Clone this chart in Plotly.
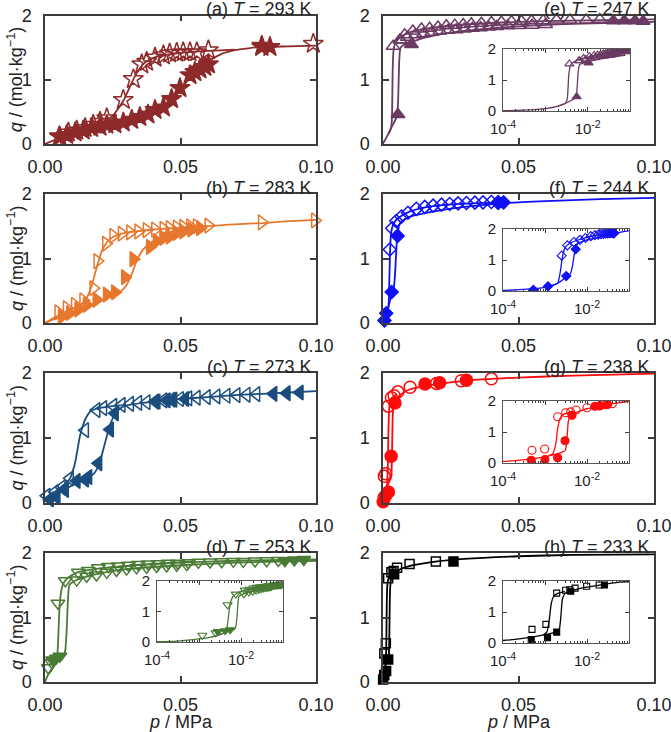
import plotly.graph_objects as go

# ---------------- data (p in MPa, q in mol/kg) ----------------
# (a) T = 293 K
A_ADS_P = [0.0055, 0.008, 0.0111, 0.0141, 0.0172, 0.0203, 0.0228, 0.0258, 0.0289, 0.032, 0.035, 0.038, 0.0406,
           0.0437, 0.0467, 0.0498, 0.0535, 0.0553, 0.0572, 0.059, 0.0603, 0.080, 0.083]
A_ADS_Q = [0.11, 0.14, 0.18, 0.21, 0.25, 0.27, 0.30, 0.31, 0.335, 0.376, 0.42, 0.46, 0.53, 0.57, 0.70, 0.87, 1.07,
           1.12, 1.16, 1.20, 1.24, 1.51, 1.51]
A_DES_P = [0.0053, 0.0086, 0.0117, 0.0148, 0.0178, 0.0203, 0.0228, 0.0289, 0.0326, 0.0357, 0.0375, 0.0406, 0.0437,
           0.046, 0.0486, 0.051, 0.0535, 0.056, 0.0603, 0.080, 0.099]
A_DES_Q = [0.12, 0.18, 0.21, 0.25, 0.30, 0.345, 0.40, 0.686, 1.01, 1.24, 1.28, 1.345, 1.38, 1.41, 1.42, 1.43, 1.43,
           1.43, 1.46, 1.53, 1.56]
A_FIT_ADS_P = [0, 0.005, 0.01, 0.015, 0.02, 0.025, 0.03, 0.035, 0.04, 0.045, 0.05, 0.055, 0.06, 0.065, 0.07, 0.075,
               0.08, 0.09, 0.1]
A_FIT_ADS_Q = [0, 0.09, 0.16, 0.22, 0.26, 0.30, 0.34, 0.40, 0.48, 0.62, 0.86, 1.10, 1.28, 1.40, 1.46, 1.49, 1.51,
               1.52, 1.53]
A_FIT_DES_P = [0.015, 0.02, 0.022, 0.025, 0.027, 0.029, 0.031, 0.033, 0.035, 0.037, 0.04, 0.045, 0.05, 0.06, 0.07]
A_FIT_DES_Q = [0.22, 0.30, 0.35, 0.44, 0.55, 0.68, 0.86, 1.04, 1.18, 1.27, 1.34, 1.39, 1.42, 1.45, 1.47]

# (b) T = 283 K
B_ADS_P = [0.0062, 0.0092, 0.0123, 0.0154, 0.019, 0.0228, 0.0258, 0.0295, 0.0326, 0.0387, 0.0412, 0.0437, 0.046,
           0.0486, 0.051, 0.054, 0.0572]
B_ADS_Q = [0.10, 0.155, 0.21, 0.28, 0.36, 0.44, 0.475, 0.71, 0.99, 1.18, 1.27, 1.32, 1.34, 1.395, 1.42, 1.45, 1.47]
B_DES_P = [0.0049, 0.008, 0.011, 0.0141, 0.0178, 0.0193, 0.0225, 0.0252, 0.0283, 0.0314, 0.0344, 0.0375, 0.0406,
           0.0437, 0.046, 0.0486, 0.051, 0.0535, 0.056, 0.0603, 0.080, 0.0996]
B_DES_Q = [0.165, 0.23, 0.28, 0.35, 0.54, 0.96, 1.23, 1.35, 1.385, 1.405, 1.42, 1.44, 1.45, 1.46, 1.47, 1.48, 1.49,
           1.50, 1.50, 1.51, 1.56, 1.59]
B_FIT_ADS_P = [0, 0.005, 0.01, 0.015, 0.02, 0.025, 0.028, 0.03, 0.032, 0.034, 0.036, 0.038, 0.04, 0.045, 0.05,
               0.055, 0.06, 0.07, 0.08, 0.09, 0.1]
B_FIT_ADS_Q = [0, 0.09, 0.17, 0.25, 0.33, 0.42, 0.49, 0.58, 0.76, 0.98, 1.13, 1.21, 1.27, 1.36, 1.42, 1.46, 1.50,
               1.53, 1.55, 1.58, 1.60]
B_FIT_DES_P = [0.0, 0.005, 0.01, 0.013, 0.015, 0.017, 0.019, 0.021, 0.023, 0.025, 0.03, 0.04, 0.05, 0.06]
B_FIT_DES_Q = [0.0, 0.12, 0.22, 0.28, 0.36, 0.55, 0.85, 1.12, 1.26, 1.33, 1.40, 1.45, 1.48, 1.50]

# (c) T = 273 K
C_ADS_P = [0.0018, 0.0043, 0.0074, 0.0117, 0.0148, 0.016, 0.0197, 0.024, 0.0258, 0.0412, 0.0449, 0.0474, 0.0517,
           0.0843, 0.0892, 0.094]
C_ADS_Q = [0.057, 0.09, 0.20, 0.34, 0.36, 0.40, 0.61, 1.13, 1.38, 1.56, 1.58, 1.59, 1.60, 1.68, 1.69, 1.70]
C_DES_P = [0.0006, 0.0037, 0.0062, 0.0092, 0.0148, 0.019, 0.0215, 0.0252, 0.0283, 0.0314, 0.0344, 0.0375, 0.0406,
           0.0437, 0.0467, 0.0498, 0.0529, 0.056, 0.0597, 0.0633, 0.067, 0.0707, 0.0744, 0.078]
C_DES_Q = [0.11, 0.17, 0.24, 0.38, 1.12, 1.43, 1.46, 1.495, 1.51, 1.525, 1.54, 1.55, 1.56, 1.58, 1.59, 1.60, 1.61,
           1.62, 1.63, 1.64, 1.65, 1.66, 1.665, 1.675]
C_FIT_ADS_P = [0, 0.005, 0.01, 0.015, 0.018, 0.02, 0.022, 0.024, 0.026, 0.028, 0.03, 0.04, 0.05, 0.06, 0.07, 0.08,
               0.09, 0.1]
C_FIT_ADS_Q = [0.04, 0.15, 0.27, 0.37, 0.45, 0.60, 0.90, 1.20, 1.38, 1.46, 1.50, 1.56, 1.60, 1.63, 1.66, 1.68,
               1.70, 1.72]
C_FIT_DES_P = [0, 0.003, 0.006, 0.009, 0.011, 0.013, 0.015, 0.017, 0.02, 0.025, 0.03]
C_FIT_DES_Q = [0.06, 0.15, 0.25, 0.36, 0.60, 1.05, 1.30, 1.42, 1.46, 1.49, 1.51]

# (d) T = 253 K
D_ADS_P = [0.0028, 0.0042, 0.0055, 0.0885, 0.092, 0.0955]
D_ADS_Q = [0.34, 0.37, 0.40, 1.88, 1.89, 1.90]
D_DES_P = [0.0012, 0.0025, 0.0048, 0.0075, 0.0123, 0.016, 0.0197, 0.0234, 0.027, 0.0308, 0.0344, 0.0381, 0.0418,
           0.0455, 0.049, 0.0529, 0.0566, 0.0609, 0.0652, 0.0695, 0.0732, 0.0775, 0.0818, 0.0861,
           0.0117, 0.0154, 0.019, 0.0228, 0.0264, 0.0301, 0.0338, 0.0375, 0.0412, 0.0449, 0.0486, 0.0523]
D_DES_Q = [0.22, 0.30, 1.22, 1.57, 1.70, 1.73, 1.77, 1.79, 1.80, 1.81, 1.82, 1.83, 1.835, 1.84, 1.84, 1.85, 1.855,
           1.86, 1.865, 1.87, 1.87, 1.875, 1.88, 1.885,
           1.58, 1.64, 1.66, 1.70, 1.73, 1.75, 1.77, 1.78, 1.79, 1.80, 1.81, 1.82]
D_FIT_ADS_P = [0, 1e-4, 3e-4, 1e-3, 2e-3, 4e-3, 6e-3, 7e-3, 7.5e-3, 8e-3, 8.5e-3, 9e-3, 0.011, 0.015, 0.02, 0.03,
               0.05, 0.07, 0.1]
D_FIT_ADS_Q = [0, 0.01, 0.03, 0.10, 0.16, 0.30, 0.38, 0.42, 0.50, 0.80, 1.30, 1.50, 1.57, 1.63, 1.68, 1.75, 1.81,
               1.85, 1.88]
D_FIT_DES_P = [2e-3, 3e-3, 4e-3, 4.6e-3, 5e-3, 5.5e-3, 6.5e-3, 8e-3, 0.012, 0.02, 0.03, 0.05, 0.07, 0.1]
D_FIT_DES_Q = [0.16, 0.23, 0.30, 0.45, 0.80, 1.25, 1.50, 1.60, 1.70, 1.76, 1.80, 1.85, 1.88, 1.90]

# (e) T = 247 K
E_ADS_P = [0.0055, 0.0105, 0.085, 0.089, 0.093, 0.096]
E_ADS_Q = [0.46, 1.55, 1.92, 1.92, 1.92, 1.91]
E_DES_P = [0.0037, 0.0062, 0.008, 0.011, 0.0142, 0.0172, 0.0203, 0.0234, 0.0265, 0.0296, 0.0326, 0.0363, 0.04,
           0.0437, 0.0474, 0.0511, 0.0548, 0.0591, 0.064, 0.069, 0.075, 0.08,
           0.0065, 0.009, 0.012, 0.015, 0.018, 0.021, 0.024, 0.027, 0.030, 0.033, 0.036, 0.039, 0.042, 0.046,
           0.050, 0.055, 0.060]
E_DES_Q = [1.52, 1.62, 1.70, 1.76, 1.79, 1.80, 1.82, 1.84, 1.85, 1.86, 1.87, 1.88, 1.89, 1.90, 1.905, 1.91, 1.917,
           1.92, 1.93, 1.93, 1.93, 1.94,
           1.62, 1.66, 1.70, 1.72, 1.74, 1.76, 1.77, 1.78, 1.79, 1.80, 1.81, 1.82, 1.83, 1.84, 1.845, 1.85, 1.86]
E_FIT_ADS_P = [0, 1e-4, 3e-4, 1e-3, 2e-3, 3e-3, 4e-3, 5e-3, 5.5e-3, 6e-3, 6.5e-3, 8e-3, 0.01, 0.015, 0.02, 0.03,
               0.05, 0.07, 0.1]
E_FIT_ADS_Q = [0, 0.01, 0.03, 0.08, 0.16, 0.25, 0.33, 0.42, 0.60, 1.30, 1.50, 1.55, 1.58, 1.65, 1.70, 1.76, 1.83,
               1.87, 1.90]
E_FIT_DES_P = [2e-3, 3e-3, 3.3e-3, 3.6e-3, 4e-3, 5e-3, 7e-3, 0.01, 0.015, 0.02, 0.03, 0.05, 0.07, 0.1]
E_FIT_DES_Q = [0.16, 0.25, 0.40, 1.20, 1.50, 1.60, 1.68, 1.74, 1.79, 1.82, 1.86, 1.90, 1.92, 1.94]

# (f) T = 244 K
F_ADS_P = [0.00053, 0.00118, 0.0032, 0.0054, 0.0425, 0.0445]
F_ADS_Q = [0.04, 0.15, 0.48, 1.35, 1.86, 1.87]
F_DES_P = [0.0025, 0.0034, 0.0049, 0.0068, 0.0092, 0.0123, 0.0154, 0.0185, 0.0216, 0.0246, 0.0277, 0.0308,
           0.0339, 0.0369, 0.04, 0.0425]
F_DES_Q = [1.14, 1.47, 1.58, 1.65, 1.71, 1.77, 1.80, 1.82, 1.835, 1.845, 1.855, 1.86, 1.866, 1.87, 1.876, 1.876]
F_FIT_ADS_P = [0, 1e-4, 3e-4, 1e-3, 2e-3, 3e-3, 4e-3, 4.5e-3, 5e-3, 5.5e-3, 6e-3, 7e-3, 0.01, 0.015, 0.02, 0.03,
               0.045, 0.06, 0.08, 0.1]
F_FIT_ADS_Q = [0, 0.02, 0.05, 0.12, 0.25, 0.42, 0.55, 0.80, 1.20, 1.42, 1.52, 1.58, 1.65, 1.70, 1.74, 1.80, 1.86,
               1.89, 1.92, 1.94]
F_FIT_DES_P = [1e-3, 1.5e-3, 2e-3, 2.3e-3, 2.6e-3, 3e-3, 4e-3, 6e-3, 0.01, 0.015, 0.02, 0.03, 0.045]
F_FIT_DES_Q = [0.12, 0.18, 0.25, 0.60, 1.10, 1.40, 1.55, 1.64, 1.73, 1.79, 1.82, 1.85, 1.87]

# (g) T = 238 K
G_ADS_P = [0.00005, 0.00047, 0.001, 0.002, 0.003, 0.0044, 0.0155, 0.0209, 0.0308]
G_ADS_Q = [0.02, 0.09, 0.11, 0.17, 0.72, 1.54, 1.83, 1.85, 1.89]
G_DES_P = [0.00049, 0.00098, 0.002, 0.0031, 0.0041, 0.0055, 0.01, 0.0197, 0.0289, 0.04]
G_DES_Q = [0.41, 0.45, 1.49, 1.62, 1.65, 1.71, 1.78, 1.84, 1.88, 1.91]
G_FIT_ADS_P = [0, 1e-4, 3e-4, 1e-3, 2e-3, 3e-3, 3.3e-3, 3.6e-3, 4e-3, 5e-3, 7e-3, 0.01, 0.02, 0.03, 0.05, 0.07, 0.1]
G_FIT_ADS_Q = [0, 0.05, 0.10, 0.20, 0.30, 0.40, 0.70, 1.35, 1.52, 1.60, 1.68, 1.75, 1.83, 1.88, 1.93, 1.96, 1.99]
G_FIT_DES_P = [1.2e-3, 1.5e-3, 1.8e-3, 2e-3, 2.3e-3, 2.7e-3, 3.5e-3, 5e-3]
G_FIT_DES_Q = [0.24, 0.28, 0.60, 1.10, 1.45, 1.56, 1.62, 1.67]

# (h) T = 233 K
H_ADS_P = [0.00005, 0.00047, 0.00115, 0.0019, 0.0041, 0.026]
H_ADS_Q = [0.04, 0.11, 0.17, 0.35, 1.67, 1.87]
H_DES_P = [0.00049, 0.00105, 0.0019, 0.0031, 0.0039, 0.0052, 0.0098, 0.0195]
H_DES_Q = [0.44, 0.60, 1.61, 1.70, 1.72, 1.77, 1.83, 1.87]
H_FIT_ADS_P = [0, 1e-4, 3e-4, 1e-3, 2e-3, 2.2e-3, 2.4e-3, 2.6e-3, 3e-3, 4e-3, 6e-3, 0.01, 0.02, 0.03, 0.05, 0.07, 0.1]
H_FIT_ADS_Q = [0, 0.08, 0.15, 0.27, 0.37, 0.45, 0.90, 1.42, 1.60, 1.67, 1.74, 1.80, 1.87, 1.91, 1.95, 1.97, 1.98]
H_FIT_DES_P = [9e-4, 1.1e-3, 1.25e-3, 1.4e-3, 1.6e-3, 2e-3, 3e-3]
H_FIT_DES_Q = [0.26, 0.35, 0.70, 1.25, 1.50, 1.60, 1.66]

LABELS = ["(a)", "(b)", "(c)", "(d)", "(e)", "(f)", "(g)", "(h)"]
TEMPS = [293, 283, 273, 253, 247, 244, 238, 233]
X_TICKS = [0, 0.05, 0.10]
X_TICKTEXT = ["0.00", "0.05", "0.10"]
Y_TICKS = [0, 1, 2]
INSET_X_TICKS = [1e-4, 1e-3, 1e-2, 1e-1]
INSET_X_TICKTEXT = ["10<sup>-4</sup>", "", "10<sup>-2</sup>", ""]

# ---------------- styling / layout ----------------
W, H = 671, 732
FONT = "Liberation Sans, Arial, sans-serif"
FRAME = "#3c3c3c"
COLS = [(45, 316), (383, 654)]
ROWS = [(15.5, 144), (194, 323), (373, 503), (553, 682)]
INSET_BOX = {3: ((157, 283), (581, 642)), 4: ((503, 630), (49, 111)), 5: ((503, 629), (229, 291)),
             6: ((503, 629), (401, 463)), 7: ((503, 629), (581, 643))}

PANELS = [
    ("#8E2A2A", "star", 15, A_ADS_P, A_ADS_Q, A_DES_P, A_DES_Q, A_FIT_ADS_P, A_FIT_ADS_Q, A_FIT_DES_P, A_FIT_DES_Q),
    ("#E8772E", "triangle-right", 13, B_ADS_P, B_ADS_Q, B_DES_P, B_DES_Q, B_FIT_ADS_P, B_FIT_ADS_Q, B_FIT_DES_P, B_FIT_DES_Q),
    ("#1A4D7E", "triangle-left", 13, C_ADS_P, C_ADS_Q, C_DES_P, C_DES_Q, C_FIT_ADS_P, C_FIT_ADS_Q, C_FIT_DES_P, C_FIT_DES_Q),
    ("#4A7B35", "triangle-down", 12, D_ADS_P, D_ADS_Q, D_DES_P, D_DES_Q, D_FIT_ADS_P, D_FIT_ADS_Q, D_FIT_DES_P, D_FIT_DES_Q),
    ("#6B3A63", "triangle-up", 12, E_ADS_P, E_ADS_Q, E_DES_P, E_DES_Q, E_FIT_ADS_P, E_FIT_ADS_Q, E_FIT_DES_P, E_FIT_DES_Q),
    ("#1010F5", "diamond", 10, F_ADS_P, F_ADS_Q, F_DES_P, F_DES_Q, F_FIT_ADS_P, F_FIT_ADS_Q, F_FIT_DES_P, F_FIT_DES_Q),
    ("#FF0A0A", "circle", 12, G_ADS_P, G_ADS_Q, G_DES_P, G_DES_Q, G_FIT_ADS_P, G_FIT_ADS_Q, G_FIT_DES_P, G_FIT_DES_Q),
    ("#000000", "square", 9, H_ADS_P, H_ADS_Q, H_DES_P, H_DES_Q, H_FIT_ADS_P, H_FIT_ADS_Q, H_FIT_DES_P, H_FIT_DES_Q),
]


def px_x(px):
    return px / W


def px_y(py):
    return 1 - py / H


def xdom(px):
    return [px_x(px[0]), px_x(px[1])]


def ydom(py):
    return [px_y(py[1]), px_y(py[0])]


fig = go.Figure()
layout = {}
annotations = []


def add_traces(ax_id, color, sym, msize, lw, mlw, data, clip):
    ap, aq, dp, dq, fap, faq, fdp, fdq = data
    xa, ya = ("x", "y") if ax_id == 1 else ("x%d" % ax_id, "y%d" % ax_id)
    for fx, fy in ((fap, faq), (fdp, fdq)):
        fig.add_trace(go.Scatter(x=fx, y=fy, mode="lines", xaxis=xa, yaxis=ya, showlegend=False,
                                 line=dict(color=color, width=lw, shape="spline", smoothing=0.6),
                                 hoverinfo="skip"))
    fig.add_trace(go.Scatter(x=ap, y=aq, mode="markers", xaxis=xa, yaxis=ya, showlegend=False, cliponaxis=clip,
                             marker=dict(symbol=sym, size=msize, color=color, line=dict(color=color, width=mlw))))
    fig.add_trace(go.Scatter(x=dp, y=dq, mode="markers", xaxis=xa, yaxis=ya, showlegend=False, cliponaxis=clip,
                             marker=dict(symbol=sym + "-open", size=msize, color=color,
                                         line=dict(color=color, width=mlw))))


for i, pan in enumerate(PANELS):
    color, sym, msize = pan[0], pan[1], pan[2]
    data = pan[3:]
    col, row = i // 4, i % 4
    ax_id = i + 1
    add_traces(ax_id, color, sym, msize, 1.8, 1.5, data, False)
    sfx = "" if ax_id == 1 else str(ax_id)
    layout["xaxis" + sfx] = dict(domain=xdom(COLS[col]), anchor="y" + sfx, range=[0, 0.1], automargin=False,
                                 tickvals=X_TICKS, ticktext=X_TICKTEXT, ticks="inside", ticklen=6, tickwidth=1.5,
                                 tickcolor=FRAME, showline=True, linecolor=FRAME, linewidth=1.5, mirror="ticks",
                                 showgrid=False, zeroline=False, tickfont=dict(size=18, color="#222"),
                                 ticklabelstandoff=6, ticklabeloverflow="allow")
    layout["yaxis" + sfx] = dict(domain=ydom(ROWS[row]), anchor="x" + sfx, range=[0, 2], automargin=False,
                                 tickvals=Y_TICKS, ticks="inside", ticklen=6, tickwidth=1.5,
                                 tickcolor=FRAME, showline=True, linecolor=FRAME, linewidth=1.5, mirror="ticks",
                                 showgrid=False, zeroline=False, tickfont=dict(size=18, color="#222"),
                                 ticklabelstandoff=8, ticklabeloverflow="allow")
    dx = xdom(COLS[col])
    dy = ydom(ROWS[row])
    annotations.append(dict(text="%s <i>T</i> = %d K" % (LABELS[i], TEMPS[i]), xref="paper", yref="paper",
                            x=dx[1], y=dy[1], xanchor="right", yanchor="bottom", showarrow=False,
                            xshift=-3, yshift=-5, borderpad=0, font=dict(size=18, color="#222")))
    if col == 0:
        annotations.append(dict(text="<i>q</i> / (mol·kg<sup>−1</sup>)", xref="paper", yref="paper",
                                x=px_x(15.5), y=(dy[0] + dy[1]) / 2, textangle=-90, showarrow=False,
                                xanchor="center", yanchor="middle", font=dict(size=18, color="#222")))
    if row == 3:
        annotations.append(dict(text="<i>p</i> / MPa", xref="paper", yref="paper",
                                x=(dx[0] + dx[1]) / 2, y=px_y(722), showarrow=False,
                                xanchor="center", yanchor="middle", font=dict(size=18, color="#222")))

# insets
minor_vals = [k * 10 ** e for e in (-4, -3, -2) for k in range(2, 10)]
for n, (pidx, box) in enumerate(INSET_BOX.items()):
    pan = PANELS[pidx]
    color, sym, msize = pan[0], pan[1], pan[2]
    ax_id = 9 + n
    isz = 7 if sym in ("diamond",) else (6 if sym == "square" else 8)
    add_traces(ax_id, color, sym, isz, 1.3, 1.1, pan[3:], True)
    sfx = str(ax_id)
    layout["xaxis" + sfx] = dict(domain=xdom(box[0]), anchor="y" + sfx, type="log", range=[-4, -1],
                                 automargin=False,
                                 tickvals=INSET_X_TICKS, ticktext=INSET_X_TICKTEXT, ticks="inside", ticklen=4,
                                 tickwidth=1, tickcolor=FRAME, showline=True, linecolor="#555", linewidth=1,
                                 mirror="ticks", showgrid=False, zeroline=False,
                                 tickfont=dict(size=15, color="#222"), ticklabelstandoff=4,
                                 minor=dict(tickvals=minor_vals, ticks="inside", ticklen=2, tickwidth=1,
                                            tickcolor=FRAME, showgrid=False))
    layout["yaxis" + sfx] = dict(domain=ydom(box[1]), anchor="x" + sfx, range=[0, 2], tickvals=Y_TICKS,
                                 automargin=False,
                                 ticks="inside", ticklen=4, tickwidth=1, tickcolor=FRAME, showline=True,
                                 linecolor="#555", linewidth=1, mirror="ticks", showgrid=False, zeroline=False,
                                 tickfont=dict(size=15, color="#222"), ticklabelstandoff=3)

fig.update_layout(width=W, height=H, autosize=False, margin=dict(l=0, r=0, t=0, b=0),
                  paper_bgcolor="white", plot_bgcolor="white", font=dict(family=FONT, size=18, color="#222"),
                  annotations=annotations, showlegend=False, **layout)
fig.write_html("out.html", config={"displayModeBar": False},
               post_script="document.body.style.margin='0px';")
